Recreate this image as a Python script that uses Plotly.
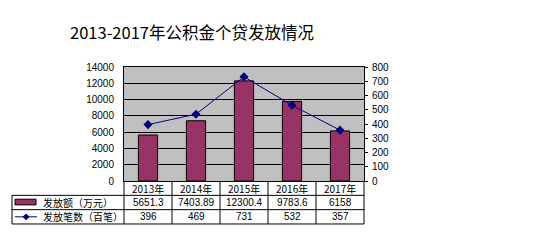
import plotly.graph_objects as go

# ---- data ----
years = ["2013年", "2014年", "2015年", "2016年", "2017年"]
amount = [5651.3, 7403.89, 12300.4, 9783.6, 6158]          # 发放额（万元）
amount_labels = ["5651.3", "7403.89", "12300.4", "9783.6", "6158"]
count = [396, 469, 731, 532, 357]                           # 发放笔数（百笔）
count_labels = ["396", "469", "731", "532", "357"]
series_names = ["发放额（万元）", "发放笔数（百笔）"]
title = "2013-2017年公积金个贷发放情况"

W, H = 550, 240
def px(x): return x / W
def py(y): return 1 - y / H

PL, PR, PT, PB = 124, 364, 65, 184.5
ROW1, ROW2, ROW3 = 199.5, 214.5, 229.5
TL = 12

BAR = "#993366"
LINE = "#000080"
CJK = "Noto Sans CJK SC, Liberation Sans, sans-serif"
NUM = "Liberation Sans, Arial, sans-serif"

xs = list(range(len(years)))
fig = go.Figure()
fig.add_trace(go.Bar(x=xs, y=amount, width=0.4, marker=dict(color=BAR, line=dict(color="black", width=1)),
                     name=series_names[0], yaxis="y"))
fig.add_trace(go.Scatter(x=xs, y=count, mode="lines+markers", line=dict(color=LINE, width=1),
                         marker=dict(symbol="diamond", size=7, color=LINE), name=series_names[1], yaxis="y2"))

fig.update_layout(
    width=W, height=H, margin=dict(l=0, r=0, t=0, b=0),
    paper_bgcolor="white", plot_bgcolor="#C0C0C0", showlegend=False,
    xaxis=dict(domain=[px(PL), px(PR)], range=[-0.5, 4.5], showticklabels=False, ticks="",
               showgrid=False, zeroline=False, showline=True, linecolor="black", linewidth=1, mirror=True),
    yaxis=dict(domain=[py(PB), py(PT)], range=[0, 14000], dtick=2000, tickformat="d", showgrid=True,
               gridcolor="black", gridwidth=1, zeroline=False, showline=True, linecolor="black", linewidth=1,
               mirror=True, ticks="", tickfont=dict(family=NUM, size=10, color="black"), ticklabelstandoff=7),
    yaxis2=dict(overlaying="y", side="right", range=[0, 800], dtick=100, tickformat="d", showgrid=False,
                zeroline=False, ticks="outside", ticklen=3, tickcolor="black", showline=False, anchor="x",
                tickfont=dict(family=NUM, size=10, color="black"), ticklabelstandoff=2),
)

shapes = []
def hline(y, x0, x1):
    shapes.append(dict(type="line", xref="paper", yref="paper", x0=px(x0), x1=px(x1), y0=py(y), y1=py(y),
                       line=dict(color="black", width=1)))
def vline(x, y0, y1):
    shapes.append(dict(type="line", xref="paper", yref="paper", x0=px(x), x1=px(x), y0=py(y0), y1=py(y1),
                       line=dict(color="black", width=1)))

colw = (PR - PL) / len(years)
hline(ROW1, TL, PR); hline(ROW2, TL, PR); hline(ROW3, TL, PR)
for i in range(len(years) + 1):
    vline(PL + i * colw, PB, ROW3)
vline(TL, ROW1, ROW3)

# legend keys
shapes.append(dict(type="rect", xref="paper", yref="paper", x0=px(15), x1=px(36), y0=py(203.5), y1=py(209.5),
                   fillcolor=BAR, line=dict(color="black", width=1)))
shapes.append(dict(type="line", xref="paper", yref="paper", x0=px(15), x1=px(37), y0=py(222), y1=py(222),
                   line=dict(color=LINE, width=1)))
cx, cy, r = 26, 222, 3
path = f"M {px(cx)} {py(cy - r)} L {px(cx + r)} {py(cy)} L {px(cx)} {py(cy + r)} L {px(cx - r)} {py(cy)} Z"
shapes.append(dict(type="path", xref="paper", yref="paper", path=path, fillcolor=LINE, line=dict(color=LINE, width=1)))
fig.update_layout(shapes=shapes)

ann = []
ann.append(dict(text=title, x=px(68), y=py(28), xref="paper", yref="paper", xanchor="left", yanchor="middle",
                showarrow=False, font=dict(family=CJK, size=16.5, color="black")))
for i, yr in enumerate(years):
    cxp = px(PL + (i + 0.5) * colw)
    ann.append(dict(text=yr, x=cxp, y=py((PB + ROW1) / 2), xref="paper", yref="paper", showarrow=False,
                    xanchor="center", yanchor="middle", font=dict(family=CJK, size=10, color="black")))
    ann.append(dict(text=amount_labels[i], x=cxp, y=py((ROW1 + ROW2) / 2), xref="paper", yref="paper",
                    showarrow=False, xanchor="center", yanchor="middle", font=dict(family=NUM, size=10, color="black")))
    ann.append(dict(text=count_labels[i], x=cxp, y=py((ROW2 + ROW3) / 2), xref="paper", yref="paper",
                    showarrow=False, xanchor="center", yanchor="middle", font=dict(family=NUM, size=10, color="black")))
ann.append(dict(text=series_names[0], x=px(41), y=py((ROW1 + ROW2) / 2), xref="paper", yref="paper",
                showarrow=False, xanchor="left", yanchor="middle", font=dict(family=CJK, size=10, color="black")))
ann.append(dict(text=series_names[1], x=px(41), y=py((ROW2 + ROW3) / 2), xref="paper", yref="paper",
                showarrow=False, xanchor="left", yanchor="middle", font=dict(family=CJK, size=10, color="black")))
fig.update_layout(annotations=ann)

fig.write_html("out.html")
